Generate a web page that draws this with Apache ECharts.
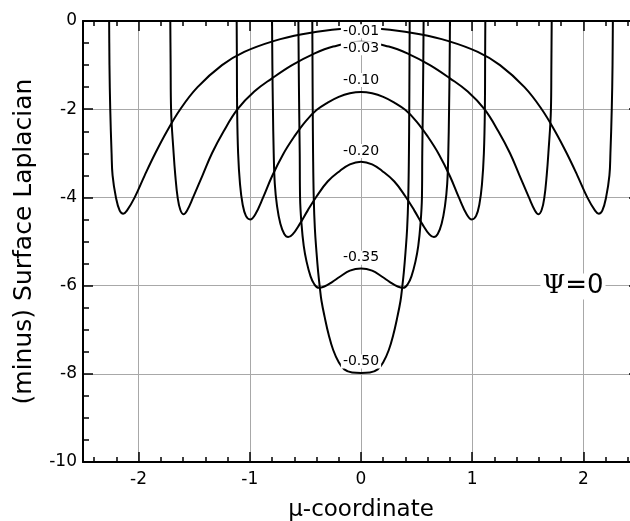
<!DOCTYPE html>
<html>
<head>
<meta charset="utf-8">
<script src="https://cdn.jsdelivr.net/npm/echarts@6/dist/echarts.min.js"></script>
<style>html,body{margin:0;padding:0;background:#fff;}#chart{width:630px;height:521px;}</style>
</head>
<body>
<div id="chart"></div>
<script>
// ---- data ----
const curveLabels = ['-0.01', '-0.03', '-0.10', '-0.20', '-0.35', '-0.50'];
const labelX = [0, 0, 0, 0, 0, 0];
const labelY = [-0.23, -0.62, -1.34, -2.95, -5.37, -7.72];

const c001x = [-2.268, -2.265, -2.262, -2.255, -2.243, -2.234, -2.204, -2.170, -2.138, -2.105, -2.035, -1.945, -1.850, -1.745, -1.625, -1.470, -1.250, -1.050, -0.780, -0.530, -0.260, 0,
                0.260, 0.530, 0.780, 1.050, 1.250, 1.470, 1.625, 1.745, 1.850, 1.945, 2.035, 2.105, 2.138, 2.170, 2.204, 2.234, 2.243, 2.255, 2.262, 2.265, 2.268];
const c001y = [0.5, 0, -1.0, -2.0, -3.0, -3.5, -4.0, -4.30, -4.37, -4.30, -4.0, -3.5, -3.0, -2.5, -2.0, -1.5, -1.0, -0.70, -0.45, -0.30, -0.20, -0.16,
                -0.20, -0.30, -0.45, -0.70, -1.0, -1.5, -2.0, -2.5, -3.0, -3.5, -4.0, -4.30, -4.37, -4.30, -4.0, -3.5, -3.0, -2.0, -1.0, 0, 0.5];

const c003x = [-1.717, -1.715, -1.712, -1.708, -1.685, -1.670, -1.649, -1.625, -1.597, -1.565, -1.510, -1.425, -1.340, -1.235, -1.110, -0.960, -0.800, -0.620, -0.430, -0.250, 0,
                0.250, 0.430, 0.620, 0.800, 0.960, 1.110, 1.235, 1.340, 1.425, 1.510, 1.565, 1.597, 1.625, 1.649, 1.670, 1.685, 1.708, 1.712, 1.715, 1.717];
const c003y = [0.5, 0, -1.0, -2.0, -3.0, -3.5, -4.0, -4.28, -4.38, -4.30, -4.0, -3.5, -3.0, -2.5, -2.0, -1.6, -1.3, -1.0, -0.75, -0.58, -0.47,
                -0.58, -0.75, -1.0, -1.3, -1.6, -2.0, -2.5, -3.0, -3.5, -4.0, -4.30, -4.38, -4.28, -4.0, -3.5, -3.0, -2.0, -1.0, 0, 0.5];

const c010x = [-1.120, -1.118, -1.116, -1.114, -1.105, -1.088, -1.065, -1.035, -0.997, -0.950, -0.880, -0.800, -0.700, -0.600, -0.500, -0.400, -0.300, -0.200, -0.100, 0,
                0.100, 0.200, 0.300, 0.400, 0.500, 0.600, 0.700, 0.800, 0.880, 0.950, 0.997, 1.035, 1.065, 1.088, 1.105, 1.114, 1.116, 1.118, 1.120];
const c010y = [0.5, 0, -1.0, -2.0, -3.0, -3.7, -4.15, -4.42, -4.50, -4.38, -4.0, -3.52, -3.02, -2.62, -2.28, -2.02, -1.85, -1.72, -1.64, -1.61,
                -1.64, -1.72, -1.85, -2.02, -2.28, -2.62, -3.02, -3.52, -4.0, -4.38, -4.50, -4.42, -4.15, -3.7, -3.0, -2.0, -1.0, 0, 0.5];

const c020x = [-0.802, -0.800, -0.797, -0.792, -0.785, -0.775, -0.755, -0.725, -0.690, -0.655, -0.615, -0.550, -0.480, -0.400, -0.300, -0.190, -0.100, 0,
                0.100, 0.190, 0.300, 0.400, 0.480, 0.550, 0.615, 0.655, 0.690, 0.725, 0.755, 0.775, 0.785, 0.792, 0.797, 0.800, 0.802];
const c020y = [0.5, 0, -1.0, -2.0, -3.0, -3.7, -4.2, -4.6, -4.83, -4.90, -4.84, -4.60, -4.30, -3.98, -3.64, -3.40, -3.25, -3.19,
                -3.25, -3.40, -3.64, -3.98, -4.30, -4.60, -4.84, -4.90, -4.83, -4.6, -4.2, -3.7, -3.0, -2.0, -1.0, 0, 0.5];

const c035x = [-0.565, -0.563, -0.560, -0.556, -0.551, -0.548, -0.535, -0.515, -0.490, -0.455, -0.420, -0.380, -0.330, -0.260, -0.190, -0.100, 0,
                0.100, 0.190, 0.260, 0.330, 0.380, 0.420, 0.455, 0.490, 0.515, 0.535, 0.548, 0.551, 0.556, 0.560, 0.563, 0.565];
const c035y = [0.5, 0, -1.0, -2.0, -3.0, -4.0, -4.6, -5.1, -5.45, -5.78, -5.97, -6.05, -6.02, -5.92, -5.80, -5.66, -5.61,
                -5.66, -5.80, -5.92, -6.02, -6.05, -5.97, -5.78, -5.45, -5.1, -4.6, -4.0, -3.0, -2.0, -1.0, 0, 0.5];

const c050x = [-0.440, -0.438, -0.436, -0.434, -0.431, -0.425, -0.415, -0.400, -0.385, -0.370, -0.355, -0.327, -0.290, -0.250, -0.200, -0.150, -0.080, 0,
                0.080, 0.150, 0.200, 0.250, 0.290, 0.327, 0.355, 0.370, 0.385, 0.400, 0.415, 0.425, 0.431, 0.434, 0.436, 0.438, 0.440];
const c050y = [0.5, 0, -1.0, -2.0, -3.0, -4.0, -4.7, -5.25, -5.7, -6.05, -6.35, -6.71, -7.12, -7.46, -7.74, -7.90, -7.97, -7.98,
                -7.97, -7.90, -7.74, -7.46, -7.12, -6.71, -6.35, -6.05, -5.7, -5.25, -4.7, -4.0, -3.0, -2.0, -1.0, 0, 0.5];

const xMinorTicks = [-2.4, -2.2, -1.8, -1.6, -1.4, -1.2, -0.8, -0.6, -0.4, -0.2, 0.2, 0.4, 0.6, 0.8, 1.2, 1.4, 1.6, 1.8, 2.2, 2.4];
const xMajorTicks = [-2, -1, 0, 1, 2];
const psiLabel = { x: 1.906, y: -6.02 };

const xTitle = 'μ-coordinate';
const yTitle = '(minus) Surface Laplacian';

// ---- chart ----
const FONT = 'DejaVu Sans';
const curves = [[c001x, c001y], [c003x, c003y], [c010x, c010y], [c020x, c020y], [c035x, c035y], [c050x, c050y]];
const zip = (xs, ys) => xs.map((x, i) => [x, ys[i]]);

const chart = echarts.init(document.getElementById('chart'), null, { renderer: 'canvas' });

const tickStyle = { color: '#000', width: 1.5 };
const baseX = { type: 'value', min: -2.5, max: 2.5, gridIndex: 0 };

const series = curves.map((c, i) => ({
  type: 'line',
  name: curveLabels[i],
  data: zip(c[0], c[1]),
  showSymbol: false,
  symbol: 'none',
  smooth: 0.4,
  clip: true,
  lineStyle: { color: '#000', width: 2 },
  z: 3,
  silent: true
}));

series.push({
  type: 'scatter',
  data: curveLabels.map((t, i) => [labelX[i], labelY[i], t]),
  symbolSize: 0,
  z: 10,
  silent: true,
  itemStyle: { opacity: 1 },
  label: {
    show: true,
    position: 'inside',
    formatter: p => p.value[2],
    color: '#000',
    opacity: 1,
    fontFamily: FONT,
    fontSize: 14,
    backgroundColor: '#fff',
    padding: [0, 2]
  }
});

series.push({
  type: 'scatter',
  data: [[psiLabel.x, psiLabel.y]],
  symbolSize: 0,
  z: 10,
  silent: true,
  itemStyle: { opacity: 1 },
  label: {
    show: true,
    position: 'inside',
    formatter: '{a|Ψ}{b|=0}',
    opacity: 1,
    backgroundColor: '#fff',
    padding: [0, 2],
    rich: {
      a: { fontFamily: 'DejaVu Serif', fontSize: 26, color: '#000' },
      b: { fontFamily: FONT, fontSize: 26, color: '#000' }
    }
  }
});

const option = {
  backgroundColor: '#fff',
  animation: false,
  grid: [{ left: 83, top: 21, width: 556, height: 441, show: false, containLabel: false, outerBoundsMode: 'none' }],
  xAxis: [
    Object.assign({}, baseX, {
      position: 'bottom',
      splitNumber: 5,
      name: xTitle,
      nameLocation: 'middle',
      nameGap: 37,
      nameTextStyle: { fontFamily: FONT, fontSize: 23, color: '#000' },
      axisLine: { show: true, onZero: false, lineStyle: { color: '#000', width: 2 } },
      axisTick: { show: true, inside: true, length: 10, customValues: xMajorTicks, lineStyle: tickStyle },
      axisLabel: { show: true, customValues: xMajorTicks, margin: 9, fontFamily: FONT, fontSize: 17, color: '#000' },
      splitLine: { show: true, lineStyle: { color: '#a8a8a8', width: 1 } }
    }),
    Object.assign({}, baseX, {
      position: 'bottom',
      axisLine: { show: false, onZero: false },
      axisTick: { show: true, inside: true, length: 5, customValues: xMinorTicks, lineStyle: tickStyle },
      axisLabel: { show: false },
      splitLine: { show: false }
    }),
    Object.assign({}, baseX, {
      position: 'top',
      axisLine: { show: true, onZero: false, lineStyle: { color: '#000', width: 2 } },
      axisTick: { show: true, inside: true, length: 10, customValues: xMajorTicks, lineStyle: tickStyle },
      axisLabel: { show: false },
      splitLine: { show: false }
    }),
    Object.assign({}, baseX, {
      position: 'top',
      axisLine: { show: false, onZero: false },
      axisTick: { show: true, inside: true, length: 5, customValues: xMinorTicks, lineStyle: tickStyle },
      axisLabel: { show: false },
      splitLine: { show: false }
    })
  ],
  yAxis: [
    {
      type: 'value', min: -10, max: 0, interval: 2, position: 'left',
      name: yTitle,
      nameLocation: 'middle',
      nameGap: 46,
      nameTextStyle: { fontFamily: FONT, fontSize: 25, color: '#000' },
      axisLine: { show: true, onZero: false, lineStyle: { color: '#000', width: 2 } },
      axisTick: { show: true, inside: true, length: 10, lineStyle: tickStyle },
      minorTick: { show: true, splitNumber: 4, length: 6, lineStyle: tickStyle },
      axisLabel: { show: true, margin: 6, fontFamily: FONT, fontSize: 17, color: '#000' },
      splitLine: { show: true, lineStyle: { color: '#a8a8a8', width: 1 } }
    },
    {
      type: 'value', min: -10, max: 0, interval: 2, position: 'right',
      axisLine: { show: true, onZero: false, lineStyle: { color: '#000', width: 2 } },
      axisTick: { show: true, inside: true, length: 10, lineStyle: tickStyle },
      minorTick: { show: true, splitNumber: 4, length: 6, lineStyle: tickStyle },
      axisLabel: { show: false },
      splitLine: { show: false }
    }
  ],
  series: series
};

chart.setOption(option);
</script>
</body>
</html>
